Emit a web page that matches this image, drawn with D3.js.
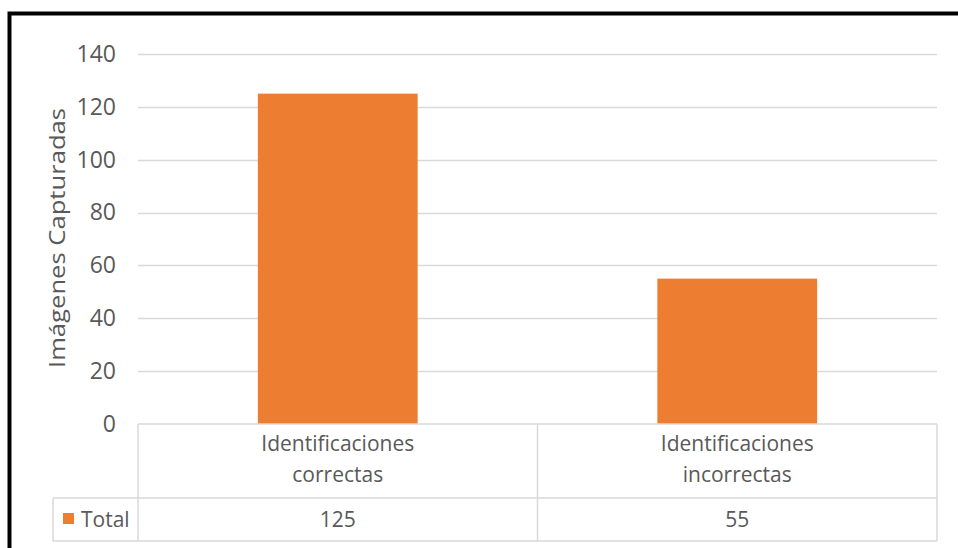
<!DOCTYPE html>
<html>
<head>
<meta charset="utf-8">
<script src="https://cdn.jsdelivr.net/npm/d3@7"></script>
<style>
  html, body { margin: 0; padding: 0; background: #fff; }
  svg { display: block; }
  text { font-family: "Open Sans", sans-serif; fill: #595959; }
</style>
</head>
<body>
<svg id="chart" width="958" height="548"></svg>
<script>
// Chart data
const categories = [["Identificaciones", "correctas"], ["Identificaciones", "incorrectas"]];
const totals = [125, 55];
const seriesName = "Total";
const yTicks = [0, 20, 40, 60, 80, 100, 120, 140];
const yTitle = "Imágenes Capturadas";

const svg = d3.select("#chart");
const orange = "#ED7D31";
const gridColor = "#d9d9d9";

// Outer frame (bleeds off the right and bottom edges)
svg.append("rect")
  .attr("x", 9.5).attr("y", 13.5)
  .attr("width", 1000).attr("height", 600)
  .attr("fill", "none").attr("stroke", "#000").attr("stroke-width", 4);

const plot = { left: 138, right: 937, top: 54, bottom: 424 };

const x = d3.scaleBand()
  .domain(d3.range(categories.length))
  .range([plot.left, plot.right])
  .paddingInner(0).paddingOuter(0);

const y = d3.scaleLinear()
  .domain([0, 140])
  .range([plot.bottom, plot.top]);

// Gridlines
svg.append("g")
  .selectAll("line")
  .data(yTicks.filter(d => d > 0))
  .join("line")
  .attr("x1", plot.left).attr("x2", plot.right)
  .attr("y1", d => Math.round(y(d)) + 0.5).attr("y2", d => Math.round(y(d)) + 0.5)
  .attr("stroke", gridColor).attr("stroke-width", 1.5);

// Y axis labels
const yAxis = d3.axisLeft(y).tickValues(yTicks).tickSize(0).tickPadding(0);
const yG = svg.append("g")
  .attr("transform", `translate(116,0)`)
  .call(yAxis);
yG.select(".domain").remove();
yG.selectAll("text")
  .style("font-size", "23px")
  .style("font-family", null)
  .attr("fill", "#595959");

// Y axis title
svg.append("text")
  .attr("transform", `translate(65,238) rotate(-90)`)
  .attr("text-anchor", "middle")
  .attr("textLength", 260)
  .attr("lengthAdjust", "spacingAndGlyphs")
  .style("font-size", "22px")
  .text(yTitle);

// Bars
const barW = x.bandwidth() * 0.4;
svg.append("g")
  .selectAll("rect")
  .data(totals)
  .join("rect")
  .attr("x", (d, i) => x(i) + (x.bandwidth() - barW) / 2)
  .attr("y", d => y(d))
  .attr("width", barW)
  .attr("height", d => y(0) - y(d))
  .attr("fill", orange);

// Data table beneath the plot
const rowSep = 498, tableBottom = 541, legendLeft = 53;
const tbl = svg.append("g").attr("stroke", gridColor).attr("stroke-width", 1.5).attr("fill", "none");
tbl.append("line").attr("x1", plot.left).attr("x2", plot.right).attr("y1", plot.bottom).attr("y2", plot.bottom);
tbl.append("line").attr("x1", legendLeft).attr("x2", plot.right).attr("y1", rowSep).attr("y2", rowSep);
tbl.append("line").attr("x1", legendLeft).attr("x2", plot.right).attr("y1", tableBottom).attr("y2", tableBottom);
tbl.append("line").attr("x1", legendLeft).attr("x2", legendLeft).attr("y1", rowSep).attr("y2", tableBottom);
const vx = [plot.left, ...d3.range(1, categories.length).map(i => x(i)), plot.right];
vx.forEach(v => tbl.append("line").attr("x1", v).attr("x2", v).attr("y1", plot.bottom).attr("y2", tableBottom));

// Category header labels
categories.forEach((lines, i) => {
  const cx = x(i) + x.bandwidth() / 2;
  const t = svg.append("text").attr("text-anchor", "middle").style("font-size", "21px");
  lines.forEach((ln, j) => {
    t.append("tspan").attr("x", cx).attr("y", 451 + j * 31).text(ln);
  });
});

// Value row
totals.forEach((v, i) => {
  svg.append("text")
    .attr("x", x(i) + x.bandwidth() / 2).attr("y", 527)
    .attr("text-anchor", "middle").style("font-size", "21px")
    .text(v);
});

// Legend key in the table
svg.append("rect").attr("x", 63).attr("y", 513).attr("width", 11).attr("height", 11).attr("fill", orange);
svg.append("text").attr("x", 81).attr("y", 527).style("font-size", "21px").text(seriesName);
</script>
</body>
</html>
